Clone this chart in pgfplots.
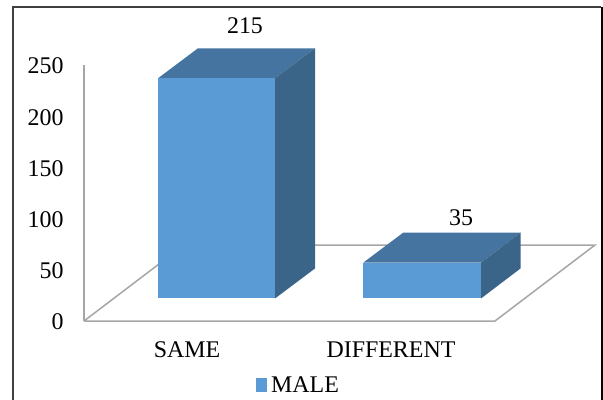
\documentclass[border=0pt]{standalone}
\usepackage{fontspec}
\setmainfont{Liberation Serif}
\usepackage{pgfplots}
\pgfplotsset{compat=1.18}
\definecolor{barfront}{HTML}{5B9BD5}
\definecolor{bartop}{HTML}{44749F}
\definecolor{barside}{HTML}{3A6488}
\definecolor{floorline}{HTML}{A6A6A6}
\definecolor{framedark}{HTML}{404040}
\begin{document}
\begin{tikzpicture}
\begin{axis}[
  scale only axis, width=511bp, height=256bp,
  xmin=84, xmax=595, ymin=0, ymax=250,
  clip=false,
  axis lines=left,
  axis line style={-},
  x axis line style={draw=none},
  y axis line style={draw=floorline, line width=1.5bp},
  major tick length=0pt,
  ytick={0,50,100,150,200,250},
  xtick={187,391},
  xticklabels={SAME,DIFFERENT},
  font=\fontsize{24}{28}\selectfont,
  /pgf/number format/assume math mode=true,
  y tick label style={xshift=-17bp, yshift=-1bp},
  x tick label style={yshift=-17bp},
  legend style={at={(axis cs:298.5,-62.5)}, anchor=center, draw=none, fill=none,
    inner sep=0pt, font=\fontsize{24}{28}\selectfont,
    legend cell align=left,
    /tikz/every even column/.append style={column sep=1bp}},
  legend image code/.code={\fill[barfront] (0bp,-7bp) rectangle (11bp,7bp);
    \path (0bp,0bp) -- (13bp,0bp);},
]
% page frame, open at the bottom edge
\path[use as bounding box] (axis cs:0,-77.15) rectangle (axis cs:603,313.48);
\draw[framedark, line width=2bp] (axis cs:13.5,-77.15) -- (axis cs:13.5,307.1) -- (axis cs:601,307.1);
\draw[black, line width=1.6bp] (axis cs:601.8,307.1) -- (axis cs:601.8,-77.15);

% chart floor
\addplot[forget plot, draw=floorline, line width=1.5bp] coordinates {(84,0) (184,74.2) (595,74.2) (495,0) (84,0)};

% SAME = 215
\addplot[forget plot, fill=bartop, draw=none] coordinates {(158,237) (198,266.3) (315,266.3) (275,237)} -- cycle;
\addplot[forget plot, fill=barside, draw=none] coordinates {(275,22) (315,51.3) (315,266.3) (275,237)} -- cycle;
\addplot[fill=barfront, draw=none] coordinates {(158,22) (275,22) (275,237) (158,237)} -- cycle;
\addlegendentry{MALE}

% DIFFERENT = 35
\addplot[forget plot, fill=bartop, draw=none] coordinates {(363.3,57) (403.3,86.3) (520.5,86.3) (481,57)} -- cycle;
\addplot[forget plot, fill=barside, draw=none] coordinates {(481,22) (520.5,51.3) (520.5,86.3) (481,57)} -- cycle;
\addplot[forget plot, fill=barfront, draw=none] coordinates {(363.3,22) (481,22) (481,57) (363.3,57)} -- cycle;

% value labels
\node[font=\fontsize{24}{28}\selectfont] at (axis cs:245,288) {215};
\node[font=\fontsize{24}{28}\selectfont] at (axis cs:461,101) {35};
\end{axis}
\end{tikzpicture}
\end{document}
